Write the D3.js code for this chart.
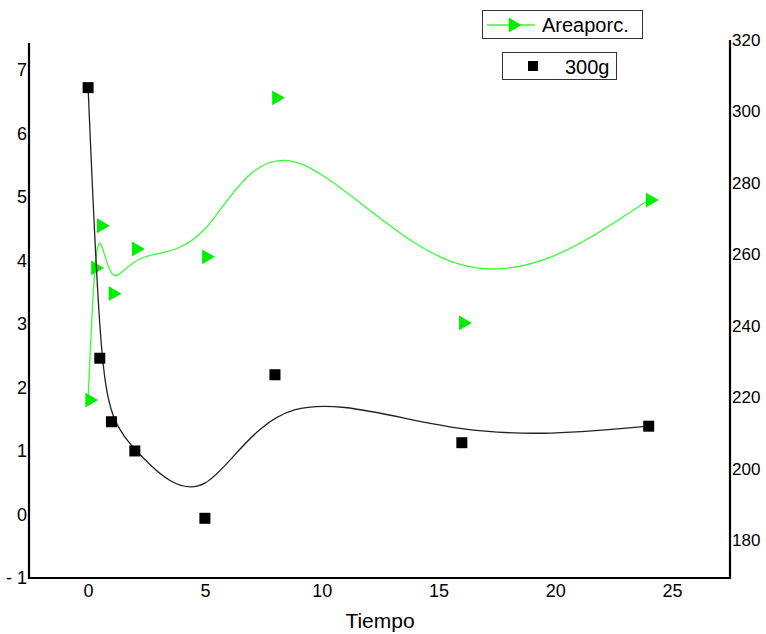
<!DOCTYPE html>
<html>
<head>
    <meta charset="utf-8" />
    <script src="https://d3js.org/d3.v7.min.js"></script>
    <style>
        body { margin: 0; background: #fff; }
        text { font-family: Arial, "Liberation Sans", sans-serif; }
    </style>
</head>
<body>
    <div id="chart"></div>
    <script>
        // data
        const tiempo300 = [0, 0.5, 1, 2, 5, 8, 16, 24];
        const valores300 = [6.72, 2.46, 1.46, 1.0, -0.06, 2.2, 1.13, 1.39];

        const tiempoArea = [0, 0.25, 0.5, 1, 2, 5, 8, 16, 24];
        const valoresArea = [219.2, 256.2, 268, 249, 261.5, 259.3, 303.8, 240.8, 275.2];

        const xTicks = [0, 5, 10, 15, 20, 25];
        const yLeftTicks = [-1, 0, 1, 2, 3, 4, 5, 6, 7];
        const yRightTicks = [180, 200, 220, 240, 260, 280, 300, 320];

        const svgWidth = 766;
        const svgHeight = 634;
        const plot = { left: 29, right: 730, top: 40, bottom: 578 };

        const svg = d3.select("#chart")
            .append("svg")
            .attr("width", svgWidth)
            .attr("height", svgHeight);

        // scales
        const x = d3.scaleLinear()
            .domain([-2.53, 27.48])
            .range([plot.left, plot.right]);

        const yLeft = d3.scaleLinear()
            .domain([-1, 7.47])
            .range([plot.bottom, plot.top]);

        const yRight = d3.scaleLinear()
            .domain([169.4, 320])
            .range([plot.bottom, plot.top]);

        // axes (no tick marks, just labels)
        const xAxis = d3.axisBottom(x).tickValues(xTicks).tickSize(0).tickPadding(5);
        const gx = svg.append("g")
            .attr("transform", `translate(0, ${plot.bottom})`)
            .call(xAxis);
        gx.select(".domain").remove();
        gx.selectAll("text").attr("font-size", 18).attr("fill", "#000").attr("dy", "0.75em");

        // plain hyphen for negatives, like the original
        const yLAxis = d3.axisLeft(yLeft).tickValues(yLeftTicks).tickSize(0).tickPadding(2)
            .tickFormat(d => d < 0 ? "- " + Math.abs(d) : String(d));
        const gyl = svg.append("g")
            .attr("transform", `translate(${plot.left}, 0)`)
            .call(yLAxis);
        gyl.select(".domain").remove();
        gyl.selectAll("text").attr("font-size", 18).attr("fill", "#000");

        const yRAxis = d3.axisRight(yRight).tickValues(yRightTicks).tickSize(0).tickPadding(2);
        const gyr = svg.append("g")
            .attr("transform", `translate(${plot.right}, 0)`)
            .call(yRAxis);
        gyr.select(".domain").remove();
        gyr.selectAll("text").attr("font-size", 17).attr("fill", "#000");

        // axis lines
        svg.append("path")
            .attr("d", `M${plot.left},43V${plot.bottom}H${plot.right}V${plot.top}`)
            .attr("fill", "none")
            .attr("stroke", "#000")
            .attr("stroke-width", 2.2);

        // green series (right axis)
        const areaPts = tiempoArea.map((t, i) => [t, valoresArea[i]]);
        const lineArea = d3.line()
            .x(d => x(d[0]))
            .y(d => yRight(d[1]))
            .curve(d3.curveBasis);

        svg.append("path")
            .datum(areaPts)
            .attr("d", lineArea)
            .attr("fill", "none")
            .attr("stroke", "#33ff33")
            .attr("stroke-width", 1.3);

        const tri = d3.symbol().type(d3.symbolTriangle).size(95);
        svg.selectAll(".tri")
            .data(areaPts)
            .enter().append("path")
            .attr("class", "tri")
            .attr("d", tri)
            .attr("transform", d => `translate(${x(d[0]) + 1.5}, ${yRight(d[1])}) rotate(90)`)
            .attr("fill", "#00ee00");

        // black series (left axis)
        const pts300 = tiempo300.map((t, i) => [t, valores300[i]]);
        const line300 = d3.line()
            .x(d => x(d[0]))
            .y(d => yLeft(d[1]))
            .curve(d3.curveBasis);

        svg.append("path")
            .datum(pts300)
            .attr("d", line300)
            .attr("fill", "none")
            .attr("stroke", "#222")
            .attr("stroke-width", 1.3);

        const sq = 11;
        svg.selectAll(".sq")
            .data(pts300)
            .enter().append("rect")
            .attr("class", "sq")
            .attr("x", d => x(d[0]) - sq / 2)
            .attr("y", d => yLeft(d[1]) - sq / 2)
            .attr("width", sq)
            .attr("height", sq)
            .attr("fill", "#000");

        // x label
        svg.append("text")
            .attr("x", 380)
            .attr("y", 628)
            .attr("text-anchor", "middle")
            .attr("font-size", 21)
            .text("Tiempo");

        // legends
        const leg1 = svg.append("g");
        leg1.append("rect")
            .attr("x", 482.5).attr("y", 10.5)
            .attr("width", 160).attr("height", 28)
            .attr("fill", "#fff").attr("stroke", "#333").attr("stroke-width", 1);
        leg1.append("line")
            .attr("x1", 487).attr("x2", 535).attr("y1", 25).attr("y2", 25)
            .attr("stroke", "#33ff33").attr("stroke-width", 1.3);
        leg1.append("path")
            .attr("d", tri)
            .attr("transform", "translate(513, 25) rotate(90)")
            .attr("fill", "#00ee00");
        leg1.append("text")
            .attr("x", 542).attr("y", 32)
            .attr("font-size", 20)
            .text("Areaporc.");

        const leg2 = svg.append("g");
        leg2.append("rect")
            .attr("x", 502.5).attr("y", 52.5)
            .attr("width", 114).attr("height", 27)
            .attr("fill", "#fff").attr("stroke", "#333").attr("stroke-width", 1);
        leg2.append("rect")
            .attr("x", 528).attr("y", 61)
            .attr("width", 10).attr("height", 10)
            .attr("fill", "#000");
        leg2.append("text")
            .attr("x", 565).attr("y", 74)
            .attr("font-size", 20)
            .text("300g");
    </script>
</body>
</html>
